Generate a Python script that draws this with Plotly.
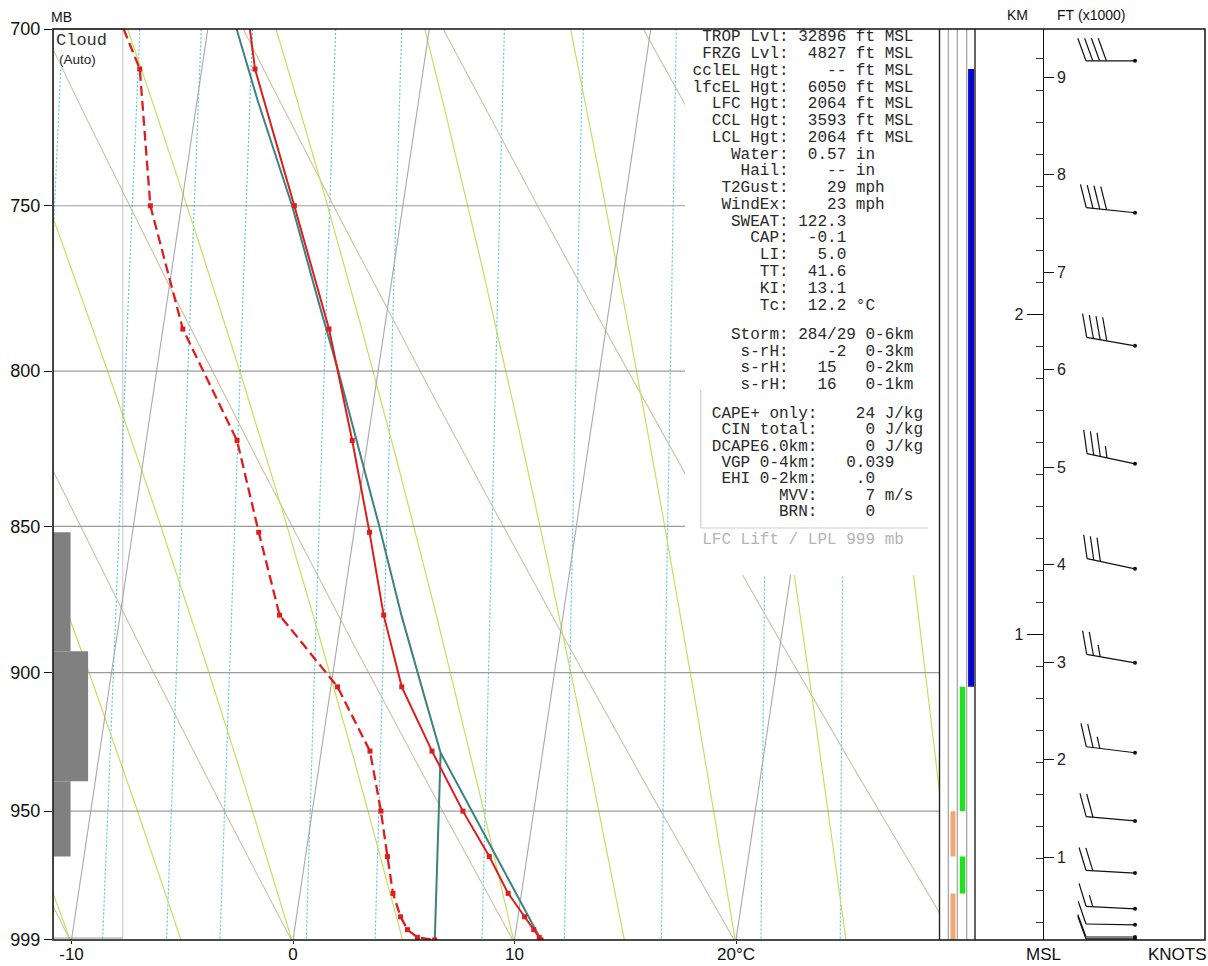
import numpy as np
import plotly.graph_objects as go

# ---------------- sounding data ----------------
levels_mb = [700, 711, 750, 787, 822, 852, 880, 905, 928, 950, 967, 981, 990, 995, 998, 999]
temp_c = [-8.1, -7.6, -4.9, -2.5, -0.7, 0.7, 1.9, 3.2, 5.0, 6.8, 8.3, 9.4, 10.3, 10.8, 11.1, 11.2]
dewpt_c = [-13.8, -12.8, -11.4, -9.1, -5.9, -4.3, -2.8, 0.3, 2.2, 3.1, 3.7, 4.2, 4.7, 5.1, 5.6, 6.4]

parcel_mb = [999, 928.6, 905, 880, 850, 822, 800, 778, 750, 720, 700]
parcel_c = [11.2, 5.4, 4.1, 2.7, 1.1, -0.5, -1.8, -3.2, -5.0, -7.25, -8.7]
parcel_td_mb = [999, 928.6]
parcel_td_c = [6.4, 5.4]

# cloud panel (percent cover per layer)
cloud_top_mb = [852, 892.5, 939]
cloud_bot_mb = [892.5, 939, 967]
cloud_pct = [25, 50, 25]

# lapse-rate strip layers
layer_top_mb = [711, 905, 950, 967, 981]
layer_bot_mb = [905, 950, 967, 981, 999]
layer_class = ["stable", "conditional", "absolute", "conditional", "absolute"]

# winds (height MSL in km, direction deg, speed kt)
wind_hgt_km = [2.794, 2.319, 1.903, 1.534, 1.206, 0.912, 0.631, 0.418, 0.255, 0.143, 0.093, 0.055, 0.049]
wind_dir_deg = [270, 276, 280, 282, 282, 280, 277, 275, 273, 273, 271, 270, 270]
wind_spd_kt = [40, 40, 40, 35, 30, 25, 25, 20, 20, 15, 10, 10, 10]

# reference lines
isotherm_c = [-20, -10, 0, 10, 20, 30]
dry_adiabat_c = [-10, 0, 10, 20, 30, 40, 50]
moist_adiabat_c = [-15, -10, -5, 0, 5, 10, 15, 20, 25, 30, 35]
mixing_ratio_gkg = [1.5, 2, 2.5, 3, 4, 5, 7, 9, 12, 16, 20]
isobar_mb = [750, 800, 850, 900, 950]

p_ticks = [700, 750, 800, 850, 900, 950, 999]
t_ticks = [-10, 0, 10, 20]
t_ticktext = ["-10", "0", "10", "20°C"]

stats_top = [
    "  TROP Lvl: 32896 ft MSL",
    "  FRZG Lvl:  4827 ft MSL",
    " cclEL Hgt:    -- ft MSL",
    " lfcEL Hgt:  6050 ft MSL",
    "   LFC Hgt:  2064 ft MSL",
    "   CCL Hgt:  3593 ft MSL",
    "   LCL Hgt:  2064 ft MSL",
    "     Water:  0.57 in",
    "      Hail:    -- in",
    "    T2Gust:    29 mph",
    "    WindEx:    23 mph",
    "     SWEAT: 122.3",
    "       CAP:  -0.1",
    "        LI:   5.0",
    "        TT:  41.6",
    "        KI:  13.1",
    "        Tc:  12.2 °C",
]
stats_storm = [
    "     Storm: 284/29 0-6km",
    "      s-rH:    -2  0-3km",
    "      s-rH:   15   0-2km",
    "      s-rH:   16   0-1km",
]
stats_cape = [
    "   CAPE+ only:    24 J/kg",
    "    CIN total:     0 J/kg",
    "   DCAPE6.0km:     0 J/kg",
    "    VGP 0-4km:   0.039",
    "    EHI 0-2km:    .0",
    "          MVV:     7 m/s",
    "          BRN:     0",
]
lift_note = "  LFC Lift / LPL 999 mb"

# ---------------- geometry / style ----------------
W, H = 1208, 966
ML, MR, MT, MBOT = 53, 3, 29, 26
PW, PH = W - ML - MR, H - MT - MBOT


def fx(px):
    return (px - ML) / PW


def fy(py):
    return 1 - (py - MT) / PH


P_REF = 999.0
SKEW = 17.3
T_LEFT, T_RIGHT = -10.835, 29.187
X_MAIN_END = fx(939.5)
X_STRIP_END = fx(975)
X_HAX = fx(1042.7)
PX_PER_KM = 319.9
H0_PX = 954.6
H_BOT = (H0_PX - 940) / PX_PER_KM
H_TOP = (H0_PX - 29) / PX_PER_KM
FT_PER_KM = 3.28084

RED = "#dc1e1e"
TEAL = "#3f8080"
ISO = "#a8a8a8"
DRY = "#c9c3a2"
MOIST = "#c8de60"
MIX = "#5cc4e4"
SANS = "Liberation Sans, Arial, sans-serif"
MONO = "Liberation Mono, Courier New, monospace"


def sk(t, p):
    return np.asarray(t, float) + SKEW * np.log(P_REF / np.asarray(p, float))


def es_hpa(tk):
    return 6.112 * np.exp(17.67 * (tk - 273.15) / (tk - 29.65))


def moist_profile(t0c, p_arr):
    Rd, Cp, Lv, eps = 287.04, 1005.7, 2.501e6, 0.622

    def f(p, T):
        e = es_hpa(T)
        rs = eps * e / (p - e)
        return (Rd * T + Lv * rs) / (p * (Cp + Lv * Lv * rs * eps / (Rd * T * T)))

    T = t0c + 273.15
    out = [T]
    for i in range(1, len(p_arr)):
        p = p_arr[i - 1]
        dp = p_arr[i] - p
        k1 = f(p, T)
        k2 = f(p + dp / 2, T + k1 * dp / 2)
        k3 = f(p + dp / 2, T + k2 * dp / 2)
        k4 = f(p + dp, T + k3 * dp)
        T = T + dp * (k1 + 2 * k2 + 2 * k3 + k4) / 6
        out.append(T)
    return np.array(out) - 273.15


p_grid = np.linspace(1000, 695, 306)

fig = go.Figure()


def family(xs_list, ys_list, color, width, dash=None):
    X, Y = [], []
    for xs, ys in zip(xs_list, ys_list):
        X += list(xs) + [None]
        Y += list(ys) + [None]
    fig.add_trace(go.Scatter(x=X, y=Y, mode="lines", hoverinfo="skip", showlegend=False,
                             line=dict(color=color, width=width, dash=dash)))


# mixing ratio lines
xs, ys = [], []
for w in mixing_ratio_gkg:
    e = w * p_grid / (622.0 + w)
    a = np.log(e / 6.112)
    td = 243.5 * a / (17.67 - a)
    xs.append(sk(td, p_grid))
    ys.append(p_grid)
family(xs, ys, MIX, 1.2, "2px,2px")

# dry adiabats
xs, ys = [], []
for th in dry_adiabat_c:
    t = (th + 273.15) * (p_grid / 1000.0) ** 0.2857 - 273.15
    xs.append(sk(t, p_grid))
    ys.append(p_grid)
family(xs, ys, DRY, 1.1)

# moist adiabats
xs, ys = [], []
for tw in moist_adiabat_c:
    t = moist_profile(tw, p_grid)
    xs.append(sk(t, p_grid))
    ys.append(p_grid)
family(xs, ys, MOIST, 1.2)

# isotherms
xs, ys = [], []
for t in isotherm_c:
    pp = np.array([1000.0, 695.0])
    xs.append(sk([t, t], pp))
    ys.append(pp)
family(xs, ys, ISO, 1.1)

# isobars
family([[T_LEFT - 1, T_RIGHT + 1] for _ in isobar_mb], [[p, p] for p in isobar_mb], "#9c9c9c", 1.2)

# parcel trace
fig.add_trace(go.Scatter(x=sk(parcel_c, parcel_mb), y=parcel_mb, mode="lines", hoverinfo="skip",
                         showlegend=False, line=dict(color=TEAL, width=2)))
fig.add_trace(go.Scatter(x=sk(parcel_td_c, parcel_td_mb), y=parcel_td_mb, mode="lines", hoverinfo="skip",
                         showlegend=False, line=dict(color=TEAL, width=2)))

# dewpoint
fig.add_trace(go.Scatter(x=sk(dewpt_c, levels_mb), y=levels_mb, mode="lines", hoverinfo="skip",
                         showlegend=False, line=dict(color=RED, width=2.3, dash="10px,5px")))
fig.add_trace(go.Scatter(x=sk(dewpt_c[1:], levels_mb[1:]), y=levels_mb[1:], mode="markers",
                         hoverinfo="skip", showlegend=False,
                         marker=dict(color=RED, size=5, symbol="square")))
# temperature
fig.add_trace(go.Scatter(x=sk(temp_c, levels_mb), y=levels_mb, mode="lines", hoverinfo="skip",
                         showlegend=False, line=dict(color=RED, width=2)))
fig.add_trace(go.Scatter(x=sk(temp_c[1:], levels_mb[1:]), y=levels_mb[1:], mode="markers",
                         hoverinfo="skip", showlegend=False,
                         marker=dict(color=RED, size=5, symbol="square")))

# cloud panel bars (x3: 0..100 %)
for top, bot, pct in zip(cloud_top_mb, cloud_bot_mb, cloud_pct):
    fig.add_trace(go.Scatter(x=[0, pct, pct, 0, 0], y=[top, top, bot, bot, top], fill="toself",
                             fillcolor="#808080", mode="lines", line=dict(width=0, color="#808080"),
                             xaxis="x3", yaxis="y", hoverinfo="skip", showlegend=False))

# lapse-rate strips (x5: px units across strip)
strip_col = {"absolute": 13.5, "conditional": 23.0, "stable": 31.6}
strip_color = {"absolute": "#f2a86c", "conditional": "#1ee21e", "stable": "#0606cc"}
strip_w = {"absolute": 5, "conditional": 5.5, "stable": 6}
for top, bot, cls in zip(layer_top_mb, layer_bot_mb, layer_class):
    c = strip_col[cls]
    fig.add_trace(go.Scatter(x=[c, c], y=[top, bot], mode="lines", xaxis="x5", yaxis="y",
                             line=dict(color=strip_color[cls], width=strip_w[cls]),
                             hoverinfo="skip", showlegend=False))

# wind barbs (x4: px units, y2: km)
STATION_X, STAFF, BARB, HALF, SPACING = 92.3, 49, 24, 12, 6.8
BX, BY = [], []
for h, d, s in zip(wind_hgt_km, wind_dir_deg, wind_spd_kt):
    a = np.deg2rad(d)
    ux, uy = np.sin(a), np.cos(a)
    tx, ty = STATION_X + STAFF * ux, STAFF * uy
    BX += [STATION_X, tx, None]
    BY += [h, h + ty / PX_PER_KM, None]
    r = np.deg2rad(-70)
    bx = ux * np.cos(r) - uy * np.sin(r)
    by = ux * np.sin(r) + uy * np.cos(r)
    n_full = int(s // 10)
    half = (s % 10) >= 5
    k = 0
    for _ in range(n_full):
        x0, y0 = tx - k * SPACING * ux, ty - k * SPACING * uy
        BX += [x0, x0 + BARB * bx, None]
        BY += [h + y0 / PX_PER_KM, h + (y0 + BARB * by) / PX_PER_KM, None]
        k += 1
    if half:
        if k == 0:
            k = 1
        x0, y0 = tx - k * SPACING * ux, ty - k * SPACING * uy
        BX += [x0, x0 + HALF * bx, None]
        BY += [h + y0 / PX_PER_KM, h + (y0 + HALF * by) / PX_PER_KM, None]
fig.add_trace(go.Scatter(x=BX, y=BY, mode="lines", xaxis="x4", yaxis="y2",
                         line=dict(color="#111111", width=1.2), hoverinfo="skip", showlegend=False))
fig.add_trace(go.Scatter(x=[STATION_X] * len(wind_hgt_km), y=wind_hgt_km, mode="markers",
                         xaxis="x4", yaxis="y2", marker=dict(color="#111111", size=4),
                         hoverinfo="skip", showlegend=False))
fig.add_trace(go.Scatter(x=[STATION_X], y=[H_BOT * FT_PER_KM], mode="markers", xaxis="x4", yaxis="y3",
                         marker=dict(size=1, opacity=0), hoverinfo="skip", showlegend=False))

# ---------------- shapes ----------------
shapes = []
# white statistics panel
shapes.append(dict(type="rect", xref="paper", yref="paper", x0=fx(685), x1=fx(939), y0=fy(575), y1=1,
                   fillcolor="white", line=dict(width=0), layer="above"))
# CAPE block border
shapes.append(dict(type="line", xref="paper", yref="paper", x0=fx(700.7), x1=fx(700.7), y0=fy(390), y1=fy(528),
                   line=dict(color="#d0d0d0", width=1.2), layer="above"))
shapes.append(dict(type="line", xref="paper", yref="paper", x0=fx(700.7), x1=fx(928), y0=fy(528), y1=fy(528),
                   line=dict(color="#d0d0d0", width=1.2), layer="above"))
# cloud box
shapes.append(dict(type="rect", xref="x3", yref="paper", x0=0, x1=100, y0=fy(938), y1=1,
                   line=dict(color="#9a9a9a", width=1.2), layer="above"))
# strip separators
for px in [948.3, 957.3, 966.7]:
    shapes.append(dict(type="line", xref="paper", yref="paper", x0=fx(px), x1=fx(px), y0=0, y1=1,
                       line=dict(color="#a0a0a0", width=1.2), layer="above"))
for px in [939.5, 975]:
    shapes.append(dict(type="line", xref="paper", yref="paper", x0=fx(px), x1=fx(px), y0=0, y1=1,
                       line=dict(color="#222222", width=1.4), layer="above"))
# outer frame
shapes.append(dict(type="rect", xref="paper", yref="paper", x0=0, x1=1, y0=0, y1=1,
                   line=dict(color="#111111", width=1.5), layer="above"))

# ---------------- annotations ----------------
ann = []


def txt(s, px, py, size, family=SANS, color="#111111", xanchor="center", bg=None):
    d = dict(text=s.replace(" ", "\u00a0"), xref="paper", yref="paper", x=fx(px), y=fy(py),
             xanchor=xanchor, yanchor="middle", showarrow=False, borderpad=0,
             font=dict(size=size, family=family, color=color))
    if bg:
        d["bgcolor"] = bg
    ann.append(d)


txt("MB", 61, 17, 14)
txt("KM", 1017, 15, 14)
txt("FT (x1000)", 1091, 15, 14)
txt("MSL", 1043, 954, 17)
txt("KNOTS", 1177, 954, 17)
txt("Cloud", 55, 40, 17, MONO, "#333333", "left", "white")
txt("(Auto)", 58, 60, 13.5, SANS, "#222222", "left", "white")

FS = 16.0
CW = FS * 0.6
X_TEXT = 783 - 10.5 * CW
for i, s in enumerate(stats_top):
    txt(s, X_TEXT, 37.2 + 16.77 * i, FS, MONO, "#2a2a2a", "left")
for i, s in enumerate(stats_storm):
    txt(s, X_TEXT, 335.5 + 16.5 * i, FS, MONO, "#2a2a2a", "left")
for i, s in enumerate(stats_cape):
    txt(s, X_TEXT, 413.8 + 16.4 * i, FS, MONO, "#2a2a2a", "left")
txt(lift_note, X_TEXT, 540, FS, MONO, "#b4b4b4", "left")

# ---------------- layout ----------------
eps_r = 1e-5
fig.update_layout(
    width=W, height=H, autosize=False,
    margin=dict(l=ML, r=MR, t=MT, b=MBOT, pad=0, autoexpand=False),
    paper_bgcolor="white", plot_bgcolor="rgba(0,0,0,0)",
    showlegend=False,
    shapes=shapes, annotations=ann,
    xaxis=dict(domain=[0, X_MAIN_END], range=[T_LEFT, T_RIGHT], anchor="y", automargin=False,
               tickmode="array", tickvals=t_ticks, ticktext=t_ticktext,
               ticks="outside", ticklen=3, tickcolor="#111", showgrid=False, zeroline=False,
               ticklabelstandoff=-4,
               showline=False, tickfont=dict(size=17, family=SANS, color="#111")),
    yaxis=dict(domain=[0, 1], type="log", anchor="x", automargin=False,
               range=[np.log10(999) + eps_r, np.log10(700) - eps_r],
               tickmode="array", tickvals=p_ticks, ticktext=[str(p) for p in p_ticks],
               ticks="outside", ticklen=8, tickcolor="#111", showgrid=False, zeroline=False,
               showline=False, tickfont=dict(size=18, family=SANS, color="#111")),
    xaxis3=dict(domain=[0, fx(123.2)], range=[0, 100], anchor="y", visible=False, automargin=False),
    xaxis5=dict(domain=[X_MAIN_END, X_STRIP_END], range=[0, 35.5], anchor="y", visible=False,
                automargin=False),
    xaxis4=dict(domain=[X_HAX, 1], range=[0, 1205 - 1042.7], anchor="y2", visible=False,
                automargin=False),
    yaxis2=dict(domain=[0, 1], anchor="free", position=X_HAX, side="left", automargin=False,
                range=[H_BOT, H_TOP], tick0=0, dtick=1, ticks="outside", ticklen=16,
                tickcolor="#111", showgrid=False, zeroline=False, showline=True,
                linecolor="#111", linewidth=1.4,
                minor=dict(tick0=0, dtick=0.1, ticks="outside", ticklen=7, tickcolor="#333", showgrid=False),
                tickfont=dict(size=16, family=SANS, color="#222")),
    yaxis3=dict(domain=[0, 1], anchor="free", position=X_HAX, side="right", overlaying="y2",
                automargin=False,
                range=[H_BOT * FT_PER_KM, H_TOP * FT_PER_KM], tick0=0, dtick=1,
                ticks="outside", ticklen=10, tickcolor="#111", showgrid=False, zeroline=False,
                showline=False, tickfont=dict(size=16, family=SANS, color="#222")),
)

fig.write_html("out.html", config={"displayModeBar": False},
               post_script="document.body.style.margin='0';document.body.style.overflow='hidden';")
